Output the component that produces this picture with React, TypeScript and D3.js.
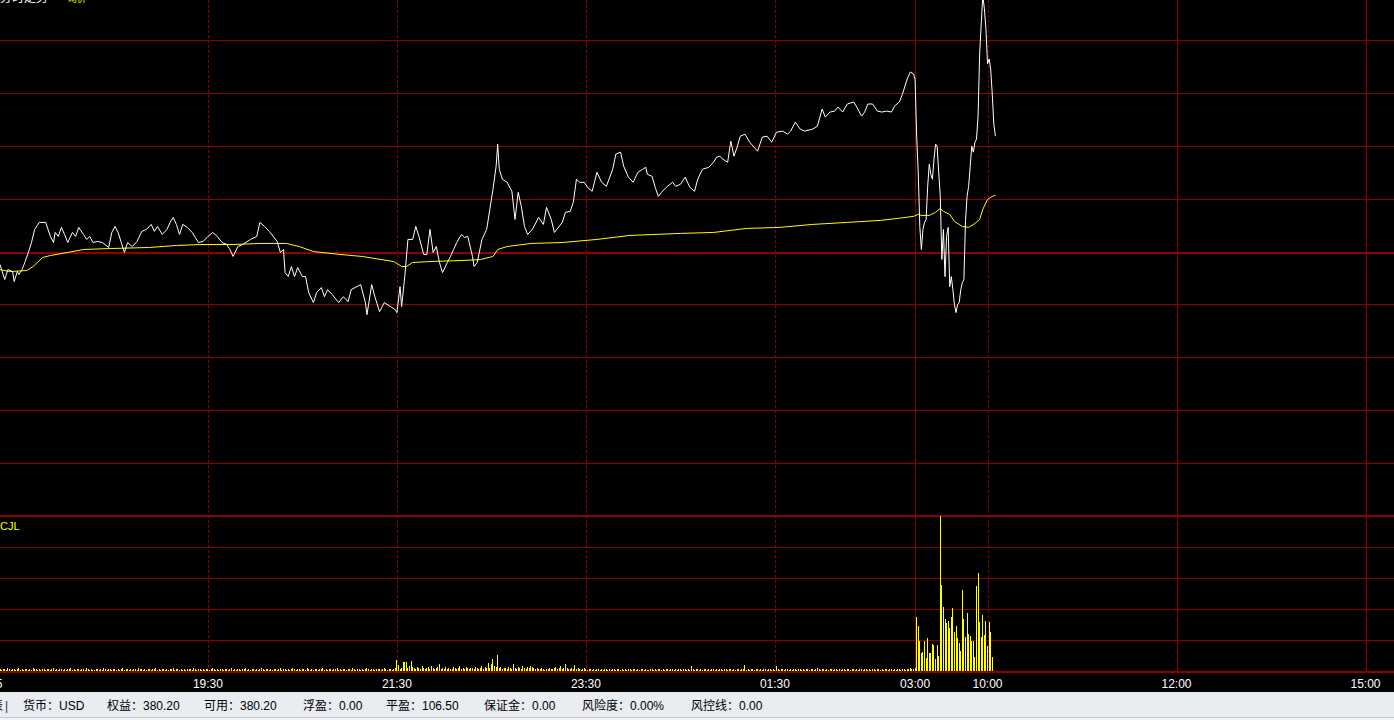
import React from "react";
import * as d3 from "d3";

const W = 1394;
const H = 720;

// time axis (minute index of the session)
const tickMinutes = [-8, 132, 252, 372, 492, 581, 627, 747, 867];
const tickLabels = ["17:15", "19:30", "21:30", "23:30", "01:30", "03:00", "10:00", "12:00", "15:00"];
const solidTickLabels = ["03:00", "12:00", "15:00"];

// price grid levels
const priceGrid = [380, 385, 390, 395, 405, 410, 415, 420];
const priceMid = 400;

// last price (minute, price)
const priceMinutes = [
  0, 3, 5, 8, 9, 11, 12, 14, 16, 18, 20, 22, 25, 29, 32, 34, 35, 37, 39, 41, 43, 46, 48, 50, 53, 55, 57, 59, 62, 65,
  69, 71, 73, 75, 77, 79, 81, 84, 87, 90, 93, 96, 98, 100, 103, 106, 108, 110, 112, 114, 116, 119, 122, 124, 126, 129,
  132, 135, 138, 141, 144, 146, 148, 151, 154, 159, 163, 165, 168, 171, 176, 178, 180, 181, 183, 185, 187, 189, 192,
  194, 196, 199, 201, 204, 206, 208, 211, 215, 218, 221, 223, 229, 232, 233, 236, 238, 241, 244, 248, 251, 252, 254,
  255, 257, 259, 262, 264, 266, 269, 271, 273, 275, 277, 279, 281, 284, 286, 288, 290, 293, 295, 297, 300, 301, 303,
  306, 309, 311, 313, 315, 316, 317, 319, 322, 325, 327, 329, 331, 333, 335, 338, 342, 345, 347, 350, 352, 357, 359,
  362, 364, 366, 368, 371, 373, 376, 379, 382, 385, 389, 391, 394, 396, 399, 402, 405, 408, 410, 411, 414, 416, 418,
  420, 423, 427, 429, 432, 435, 438, 441, 443, 446, 450, 453, 455, 457, 459, 462, 464, 466, 468, 470, 473, 476, 481,
  484, 487, 490, 493, 497, 500, 502, 505, 508, 511, 516, 519, 522, 524, 527, 530, 532, 535, 538, 542, 544, 547, 549,
  551, 554, 557, 560, 563, 566, 568, 571, 573, 576, 578, 580, 581,
  582, 583, 584, 585, 586, 587, 588, 589, 590, 591, 592, 593, 594, 595, 596, 597, 598, 599, 600, 601, 602, 603, 604,
  605, 606, 607, 608, 609, 610, 611, 612, 613, 614, 615, 616, 617, 618, 619, 620, 621, 622, 623, 624, 625, 626, 627,
  628, 629, 630, 631, 632,
];
const priceValues = [
  398.77, 397.35, 398.29, 398.1, 397.16, 398.1, 397.82, 398.29, 399.05, 399.91, 400.85, 402.09, 402.75, 402.75, 401.42,
  400.85, 401.8, 401.42, 402.28, 401.61, 400.85, 401.8, 401.42, 402.28, 401.61, 401.14, 401.42, 400.85, 400.95, 400.85,
  400.38, 401.8, 402.37, 401.8, 400.85, 399.91, 400.85, 400.47, 400.95, 401.9, 402.09, 402.56, 401.9, 402.37, 401.61,
  402.09, 402.75, 403.22, 402.56, 401.61, 402.56, 402.28, 401.8, 401.33, 400.85, 400.95,
  401.42, 401.8, 401.42, 400.85, 400.66, 400.19, 399.53, 400.47, 400.66, 401.14, 401.42, 402.75, 402.37, 401.9, 400.95,
  399.91, 400.19, 398.01, 397.63, 398.58, 397.63, 398.48, 397.63,
  397.63, 396.11, 395.17, 396.11, 396.59, 395.73, 396.4, 395.92, 395.17, 395.73, 395.26, 396.4, 396.87, 395.17, 394.03,
  396.87, 395.73, 394.31, 395.17, 394.79, 394.5, 394.22, 396.68,
  394.79, 397.63, 401.14, 401.14, 402.37, 401.42, 399.72, 399.72, 402.09, 399.91, 400.47, 398.96, 398.01, 398.96,
  399.53, 400.19, 400.85, 401.61, 401.33, 401.42, 399.53, 398.58, 398.96,
  401.14, 402.09, 403.98, 405.88, 408.06, 410.14, 407.77, 406.83, 406.54, 405.69, 403.03, 405.59, 404.27, 402.37,
  401.61, 402.09, 403.22, 402.56, 404.17, 403.03, 401.8, 402.75, 403.7,
  403.79, 404.65, 406.83, 406.54, 406.54, 406.07, 405.69, 407.49, 406.54, 406.16, 407.77, 409.2, 409.39, 408.06,
  407.02, 406.54, 407.49, 407.77, 407.96, 407.3, 407.11, 406.07, 405.21,
  405.59, 406.07, 406.54, 406.16, 406.35, 407.02, 406.07, 405.69, 406.83, 407.77, 407.96, 408.44, 408.91, 409.01,
  408.72, 408.44, 410.43, 409.01, 409.86, 410.9, 411.09, 410.33, 409.48,
  410.81, 410.9, 410.33, 411.28, 411.38, 411.09, 411.38, 412.23, 411.57, 411.38, 411.57, 411.85, 413.46, 412.7,
  413.18, 413.27, 413.65, 413.18, 413.94, 414.13, 413.65, 412.8, 413.18,
  413.94, 413.94, 413.27, 413.18, 413.27, 413.18, 413.75, 414.13, 414.88, 416.31, 416.97, 416.78, 416.31,
  410.9, 407.49, 402.37, 400.19, 402.09, 402.75, 403.03, 406.16, 408.25, 407.3, 406.83, 408.72, 410.14, 409.95,
  407.49, 405.21, 399.24, 402.09, 397.63, 401.42, 402.28, 396.68, 397.63,
  396.4, 394.98, 394.22, 394.98, 395.17, 396.4, 397.06, 397.35, 402.84, 405.21, 406.16, 408.06, 409.95, 409.39,
  410.33, 410.62, 412.8, 418.68, 421.52, 424.17, 422.94, 421.05, 417.73,
  418.2, 417.25, 414.88, 412.04, 410.9,
];

// average price (minute, price)
const avgMinutes = [
  0, 6, 17, 21, 27, 32, 43, 53, 70, 95, 112, 127, 148, 165, 182, 190, 199, 216, 230, 250, 255, 258, 262, 273, 294, 305,
  313, 316, 322, 337, 357, 379, 400, 432, 453, 474, 495, 516, 538, 559, 570, 580, 583, 585, 590, 594, 597, 599, 603,
  606, 611, 615, 619, 622, 624, 627, 630, 632,
];
const avgValues = [
  398.29, 398.1, 398.2, 398.58, 399.43, 399.62, 399.91, 400.19, 400.28, 400.38, 400.57, 400.66, 400.66, 400.76, 400.76,
  400.47, 400.0, 399.72, 399.53, 399.05, 398.58, 398.58, 398.96, 399.05, 399.15, 399.24, 399.53, 400.19, 400.47,
  400.76, 400.85, 401.14, 401.52, 401.71, 401.8, 402.18, 402.28, 402.56, 402.75, 402.94, 403.13, 403.32, 403.51,
  403.41, 403.41, 403.7, 404.08, 403.79, 403.51, 402.84, 402.37, 402.28, 402.65, 403.03, 403.98, 404.93, 405.21, 405.31,
];

// volume (lots) per minute, night session minutes 0..581
const volNight = [
  2, 1, 2, 2, 1, 3, 2, 1, 2, 2, 1, 2, 3, 1, 2, 1, 2, 2, 1, 2, 1, 3, 2, 2, 1, 2, 1, 2, 2, 1,
  2, 2, 1, 2, 3, 1, 2, 1, 2, 2, 1, 2, 1, 2, 2, 3, 1, 2, 1, 2, 2, 1, 2, 2, 1, 3, 2, 1, 2, 1,
  1, 2, 2, 1, 2, 1, 3, 2, 1, 2, 2, 1, 2, 2, 1, 2, 1, 2, 3, 1, 2, 2, 1, 2, 1, 2, 2, 1, 3, 2,
  2, 1, 2, 1, 2, 2, 1, 2, 2, 3, 1, 2, 1, 2, 2, 1, 2, 1, 2, 2, 3, 1, 2, 2, 1, 2, 1, 2, 1, 2,
  2, 2, 1, 3, 2, 1, 2, 2, 1, 2, 1, 2, 2, 1, 2, 3, 2, 1, 2, 1, 2, 2, 1, 2, 2, 1, 2, 3, 1, 2,
  1, 2, 2, 1, 2, 2, 3, 1, 2, 1, 2, 2, 1, 2, 1, 2, 3, 2, 1, 2, 2, 1, 2, 1, 2, 2, 1, 2, 3, 1,
  2, 2, 1, 2, 1, 2, 3, 2, 1, 2, 2, 1, 2, 2, 1, 3, 2, 1, 2, 1, 2, 2, 1, 2, 2, 3, 1, 2, 1, 2,
  2, 1, 2, 2, 3, 1, 2, 1, 2, 2, 1, 2, 2, 1, 3, 2, 1, 2, 2, 1, 2, 1, 2, 3, 2, 1, 2, 2, 1, 2,
  2, 2, 1, 2, 3, 2, 1, 2, 2, 1, 2, 3, 11, 6, 2, 3, 9, 9, 9, 3, 5, 10, 4, 3, 2, 4, 3, 2, 5, 3,
  2, 3, 4, 2, 5, 3, 2, 3, 4, 7, 2, 3, 2, 4, 2, 3, 2, 2, 4, 3, 2, 3, 5, 2, 3, 2, 4, 3, 2, 3,
  3, 2, 4, 3, 2, 3, 5, 2, 4, 3, 8, 3, 7, 12, 5, 4, 16, 3, 4, 2, 3, 3, 2, 4, 3, 2, 7, 3, 2, 4,
  3, 2, 5, 3, 2, 4, 3, 5, 4, 3, 2, 3, 2, 2, 3, 2, 1, 2, 2, 3, 2, 2, 3, 4, 2, 3, 5, 2, 3, 7,
  3, 2, 2, 3, 2, 6, 2, 3, 2, 1, 2, 3, 2, 1, 2, 2, 1, 2, 1, 2, 2, 1, 2, 1, 2, 2, 1, 2, 1, 2,
  2, 1, 2, 2, 1, 2, 1, 2, 1, 2, 2, 1, 2, 2, 1, 2, 1, 2, 2, 1, 2, 1, 1, 2, 2, 1, 2, 1, 2, 2,
  1, 2, 1, 2, 2, 1, 2, 2, 1, 2, 1, 2, 2, 1, 2, 2, 1, 2, 1, 5, 2, 1, 2, 2, 1, 2, 1, 2, 2, 1,
  2, 1, 2, 2, 1, 2, 1, 2, 2, 1, 2, 2, 1, 2, 2, 1, 2, 1, 2, 2, 1, 2, 2, 6, 1, 2, 1, 2, 2, 1,
  2, 2, 1, 2, 1, 2, 2, 1, 2, 2, 1, 2, 1, 5, 2, 1, 2, 2, 1, 2, 2, 1, 2, 1, 2, 2, 1, 2, 2, 1,
  2, 1, 2, 2, 1, 2, 2, 1, 2, 3, 2, 1, 2, 2, 1, 2, 1, 2, 2, 1, 2, 2, 1, 2, 1, 2, 2, 1, 2, 2,
  1, 2, 2, 1, 2, 1, 2, 2, 1, 2, 2, 1, 2, 1, 2, 2, 1, 2, 2, 1, 2, 1, 2, 2, 1, 2, 2, 1, 2, 1,
  2, 2, 1, 2, 2, 1, 2, 2, 3, 2, 2, 3,
];
// volume (lots) per minute, day session starting at minute 582
const volDayStart = 582;
const volDay = [
  54, 45, 30, 18, 19, 30, 13, 33, 18, 18, 27, 26, 12, 26, 15, 155, 86, 64, 52, 48, 50, 43, 54, 63, 39, 45, 33, 28,
  20, 81, 52, 34, 58, 37, 35, 30, 30, 14, 85, 98, 49, 34, 56, 36, 50, 25, 49, 39, 14,
];
const volMax = 155;
const volGrid = [31, 62, 93, 124];

const statusLabels = ["货币", "权益", "可用", "浮盈", "平盈", "保证金", "风险度", "风控线"];
const statusValues = ["USD", "380.20", "380.20", "0.00", "106.50", "0.00", "0.00%", "0.00"];
const statusX = [23, 107, 204, 303, 386, 484, 582, 691];

const GRID = "#8c0000";
const LATIN = "'Liberation Sans', Arial, sans-serif";
const CJK = "'Liberation Sans', 'Noto Sans CJK SC', sans-serif";

export default function App() {
  const xs = d3.scaleLinear().domain([0, 100]).range([0, 157.5]);
  const ys = d3.scaleLinear().domain([375, 425]).range([516, -13]);
  const vs = d3.scaleLinear().domain([0, volMax]).range([671, 516]);

  const pricePts: [number, number][] = priceMinutes.map((m, i) => [m, priceValues[i]]);
  const avgPts: [number, number][] = avgMinutes.map((m, i) => [m, avgValues[i]]);
  const line = d3
    .line<[number, number]>()
    .x((d) => xs(d[0]))
    .y((d) => ys(d[1]));

  const vols: [number, number][] = [
    ...volNight.map((v, i) => [i, v] as [number, number]),
    ...volDay.map((v, i) => [volDayStart + i, v] as [number, number]),
  ];

  const px = (v: number) => Math.round(v) + 0.5;

  return (
    <div style={{ position: "fixed", left: 0, top: 0, width: W, height: H, overflow: "hidden" }}>
      <svg width={W} height={H} style={{ display: "block" }}>
        <rect x={0} y={0} width={W} height={692} fill="#000" />

        {/* price grid */}
        {priceGrid.map((p) => (
          <line key={"pg" + p} x1={0} x2={W} y1={px(ys(p))} y2={px(ys(p))} stroke={GRID} strokeWidth={1} />
        ))}
        <line x1={0} x2={W} y1={Math.round(ys(priceMid)) + 1} y2={Math.round(ys(priceMid)) + 1} stroke={GRID} strokeWidth={2} />

        {/* volume grid */}
        {volGrid.map((v) => (
          <line key={"vg" + v} x1={0} x2={W} y1={px(vs(v))} y2={px(vs(v))} stroke={GRID} strokeWidth={1} />
        ))}
        <line x1={0} x2={W} y1={516} y2={516} stroke={GRID} strokeWidth={2} />
        <line x1={0} x2={W} y1={672} y2={672} stroke={GRID} strokeWidth={2} />

        {/* vertical grid */}
        {tickMinutes.map((m, i) =>
          xs(m) < 0 ? null : (
            <line
              key={"vt" + i}
              x1={px(xs(m))}
              x2={px(xs(m))}
              y1={0}
              y2={671}
              stroke={GRID}
              strokeWidth={1}
              strokeDasharray={solidTickLabels.includes(tickLabels[i]) ? undefined : "3,2"}
            />
          )
        )}

        {/* volume bars */}
        {vols.map(([m, v]) => (
          <rect
            key={"vb" + m}
            x={Math.floor(xs(m))}
            y={vs(v)}
            width={1}
            height={vs(0) - vs(v)}
            fill="#ffff00"
            shapeRendering="crispEdges"
          />
        ))}

        {/* average & price lines */}
        <path d={line(avgPts) || ""} fill="none" stroke="#ffff00" strokeWidth={1} />
        <path d={line(pricePts) || ""} fill="none" stroke="#ffffff" strokeWidth={1} />

        {/* titles */}
        <text x={0} y={2} fill="#fff" fontSize={12} fontFamily={CJK}>分时走势</text>
        <text x={68} y={2} fill="#ffff00" fontSize={9} fontFamily={CJK}>均价</text>
        <text x={0} y={530} fill="#ffff00" fontSize={11} fontFamily={LATIN}>CJL</text>

        {/* time labels */}
        {tickMinutes.map((m, i) => (
          <text
            key={"tl" + i}
            x={xs(m)}
            y={688}
            fill="#fff"
            fontSize={12}
            fontFamily={LATIN}
            textAnchor="middle"
          >
            {tickLabels[i]}
          </text>
        ))}

        {/* status bar */}
        <rect x={0} y={692} width={W} height={28} fill="#e9ecf0" />
        <line x1={0} x2={W} y1={717.5} y2={717.5} stroke="#c6cad0" strokeWidth={1} />
        <rect x={0} y={718} width={W} height={2} fill="#f3f4f6" />
        <text x={3} y={710} fill="#000" fontSize={12} fontFamily={CJK} textAnchor="end">表</text>
        <text x={5} y={710} fill="#334" fontSize={12} fontFamily={CJK}>|</text>
        {statusLabels.map((s, i) => (
          <text key={"st" + i} x={statusX[i]} y={710} fill="#000" fontSize={12} fontFamily={CJK}>
            {s + "：" + statusValues[i]}
          </text>
        ))}
      </svg>
    </div>
  );
}
